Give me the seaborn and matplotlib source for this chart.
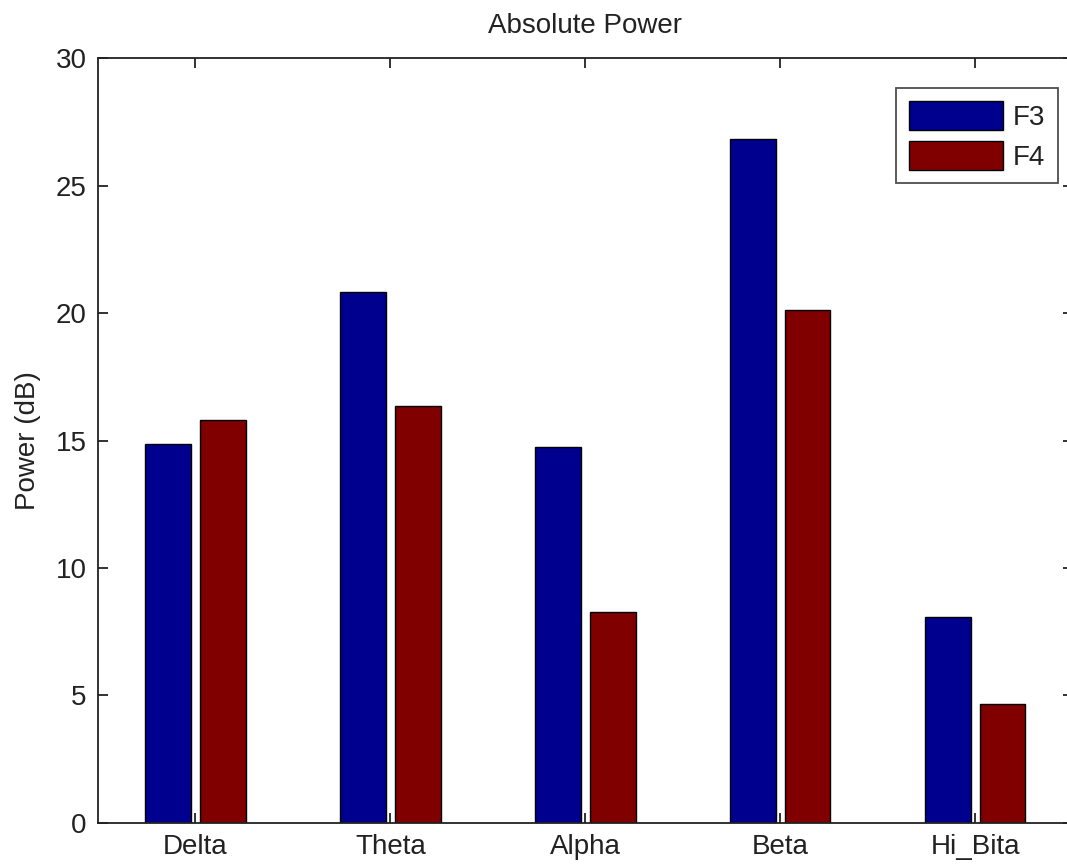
import pandas as pd
import matplotlib
matplotlib.use("Agg")
import matplotlib.pyplot as plt
import seaborn as sns
from matplotlib.patches import Patch

# данные
bands = ["Delta", "Theta", "Alpha", "Beta", "Hi_Bita"]
f3_power = [14.85, 20.84, 14.75, 26.81, 8.09]
f4_power = [15.8, 16.35, 8.26, 20.12, 4.65]
channels = ["F3", "F4"]
colors = ["#00008F", "#800000"]

df = pd.DataFrame({
    "band": bands * 2,
    "channel": ["F3"] * len(bands) + ["F4"] * len(bands),
    "power": f3_power + f4_power,
})

# настройки
sns.set_theme(style="ticks")
plt.rcParams["font.family"] = ["Liberation Sans", "DejaVu Sans"]
text_color = "#222222"

fig = plt.figure(figsize=(10.67, 8.65), dpi=100)
ax = fig.add_axes([0.0918, 0.0486, 0.9135, 0.8843])

sns.barplot(data=df, x="band", y="power", hue="channel", order=bands,
            hue_order=channels, palette=colors, width=0.56, gap=0.16,
            edgecolor="black", linewidth=1, saturation=1, errorbar=None,
            legend=False, ax=ax)

ax.set_ylim(0, 30)
ax.set_yticks(range(0, 31, 5))
ax.set_xlim(-0.5, 4.5)

for side in ["top", "bottom", "left", "right"]:
    ax.spines[side].set_visible(True)
    ax.spines[side].set_linewidth(1.3)
    ax.spines[side].set_color("#222222")

ax.tick_params(direction="in", top=True, right=True, length=7, width=1.3,
               labelsize=20, labelcolor=text_color, pad=8, color="#222222")

ax.set_xlabel("")
ax.set_ylabel("Power (dB)", fontsize=20, color=text_color)
ax.yaxis.set_label_coords(-0.058, 0.5)
ax.set_title("Absolute Power", fontsize=20, color=text_color, pad=18)

handles = [Patch(facecolor=c, edgecolor="black", linewidth=1) for c in colors]
leg = ax.legend(handles, channels, loc="upper right",
                bbox_to_anchor=(0.9850, 0.9608), borderaxespad=0,
                fontsize=20, frameon=True, fancybox=False,
                handlelength=3.4, handleheight=1.25, labelspacing=0.36,
                borderpad=0.45, handletextpad=0.36)
leg.get_frame().set_edgecolor("#222222")
leg.get_frame().set_linewidth(1.3)
for t in leg.get_texts():
    t.set_color(text_color)

plt.savefig("out.png", dpi=100)
